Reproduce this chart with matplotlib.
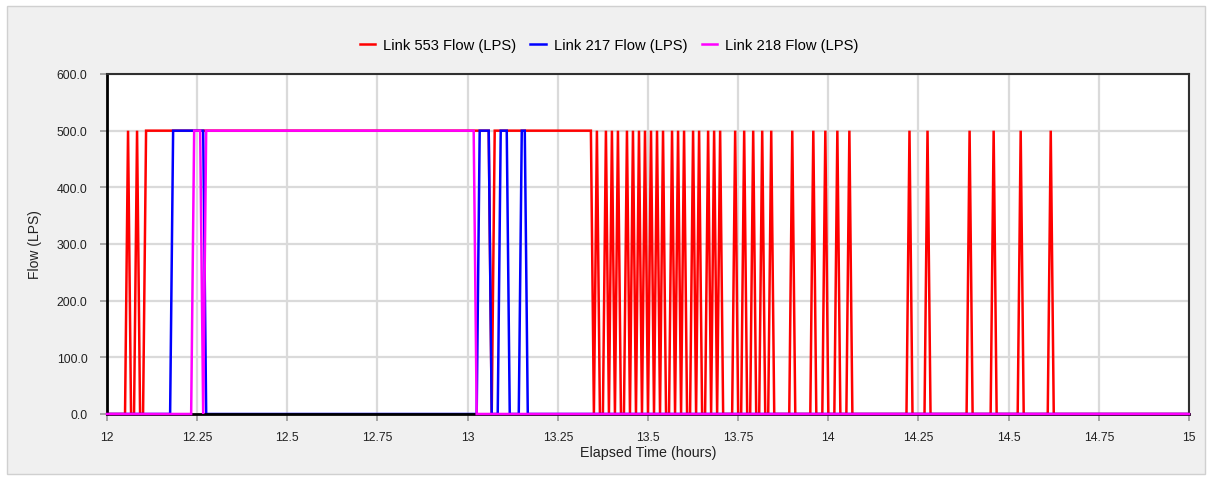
import numpy as np
import matplotlib
matplotlib.use('Agg')
import matplotlib.pyplot as plt
from matplotlib.patches import Rectangle

# ---- data (minutes after 12:00, 30-second samples) ----
step_min = 0.5
total_min = 180.0
start_hour = 12.0
on_flow = 500.0

red_blocks_min = [(6.5, 63.5), (64.5, 80.5)]
red_spikes_min = [3.5, 5.0, 81.5, 83.0, 84.0, 85.0, 86.5, 87.5, 88.5, 89.5,
                  90.5, 91.5, 92.5, 94.0, 95.0, 96.0, 97.5, 98.5, 100.0, 101.0,
                  102.0, 104.5, 106.0, 107.5, 109.0, 110.5, 114.0, 117.5, 119.5,
                  121.5, 123.5, 133.5, 136.5, 143.5, 147.5, 152.0, 157.0]
blue_blocks_min = [(11.0, 16.0), (62.0, 63.5), (65.5, 66.5), (69.0, 69.5)]
magenta_blocks_min = [(14.5, 15.5), (16.5, 61.0)]

series_names = ["Link 553 Flow (LPS)", "Link 217 Flow (LPS)", "Link 218 Flow (LPS)"]
series_colors = ["#ff0000", "#0000ff", "#ff00ff"]

x_ticks = [12, 12.25, 12.5, 12.75, 13, 13.25, 13.5, 13.75, 14, 14.25, 14.5, 14.75, 15]
x_tick_labels = ["12", "12.25", "12.5", "12.75", "13", "13.25", "13.5", "13.75",
                 "14", "14.25", "14.5", "14.75", "15"]
y_ticks = [0, 100, 200, 300, 400, 500, 600]

# ---- build series ----
t_min = np.arange(0, total_min + step_min / 2, step_min)
hours = start_hour + t_min / 60.0


def build(blocks, spikes=()):
    v = np.zeros_like(t_min)
    for a, b in blocks:
        v[(t_min >= a - 1e-9) & (t_min <= b + 1e-9)] = on_flow
    for s in spikes:
        v[np.isclose(t_min, s)] = on_flow
    return v


red = build(red_blocks_min, red_spikes_min)
blue = build(blue_blocks_min)
magenta = build(magenta_blocks_min)

plt.rcParams['font.family'] = ['Liberation Sans', 'DejaVu Sans']

fig = plt.figure(figsize=(12.11, 4.81), dpi=100, facecolor='white')
fig.patches.append(Rectangle((7 / 1211, 1 - 475 / 481), 1198 / 1211, 468 / 481,
                             transform=fig.transFigure, facecolor='#f0f0f0',
                             edgecolor='#d0d0d0', lw=1, zorder=-10))

ax = fig.add_axes([107 / 1211, 1 - 415 / 481, (1189 - 107) / 1211, (415 - 75) / 481])
ax.set_facecolor('white')

line_z = [2.2, 2.3, 3.0]
line_clip = [True, True, False]
for vals, name, col, z, cl in zip([red, blue, magenta], series_names, series_colors,
                                  line_z, line_clip):
    ax.plot(hours, vals, color=col, lw=1.8, label=name, clip_on=cl, zorder=z,
            solid_joinstyle='miter')

ax.set_xlim(12, 15)
ax.set_ylim(0, 600)
ax.set_xticks(x_ticks)
ax.set_xticklabels(x_tick_labels)
ax.set_yticks(y_ticks)
ax.set_yticklabels([f"{v:.1f}" for v in y_ticks])
ax.grid(True, color='#dadada', lw=1.6, zorder=0)
ax.set_axisbelow(True)

ax.tick_params(axis='both', labelsize=8.8, colors='#999999', labelcolor='#222222',
               length=5, width=1.2, direction='out')
ax.tick_params(axis='x', pad=7)
ax.tick_params(axis='y', pad=9)

for s in ['left', 'bottom']:
    ax.spines[s].set_color('black')
    ax.spines[s].set_linewidth(2)
    ax.spines[s].set_zorder(2.5)
for s in ['top', 'right']:
    ax.spines[s].set_color('#303030')
    ax.spines[s].set_linewidth(1.5)

ax.set_xlabel("Elapsed Time (hours)", fontsize=10.3, color='#222222')
ax.set_ylabel("Flow (LPS)", fontsize=10, color='#222222')
ax.xaxis.set_label_coords(0.5, (415 - 453) / 340)
ax.xaxis.label.set_va('center')
ax.yaxis.set_label_coords((35 - 107) / 1082, 0.5)
ax.yaxis.label.set_va('center')

handles, labels = ax.get_legend_handles_labels()
fig.legend(handles, labels, loc='center', bbox_to_anchor=(0.503, 1 - 46 / 481), ncol=3,
           frameon=False, fontsize=10.6, handlelength=1.05, columnspacing=0.95,
           handletextpad=0.55)

fig.savefig("out.png", dpi=100, facecolor=fig.get_facecolor())
